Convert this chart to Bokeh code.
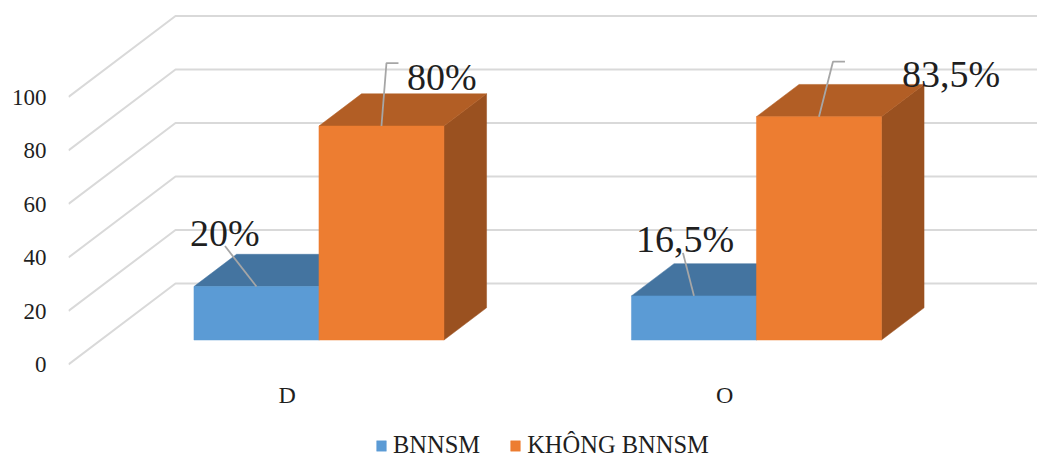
from bokeh.core.properties import value
from bokeh.embed import file_html
from bokeh.models import FixedTicker, Legend, LegendItem, Range1d
from bokeh.plotting import figure
from bokeh.resources import INLINE

categories = ["D", "O"]
series_names = ["BNNSM", "KHÔNG BNNSM"]
bnnsm = [20, 16.5]
khong_bnnsm = [80, 83.5]
bnnsm_labels = ["20%", "16,5%"]
khong_labels = ["80%", "83,5%"]
y_ticks = [0, 20, 40, 60, 80, 100]

FONT = "Liberation Serif"
GRID = "#D9D9D9"
LEADER = "#A6A6A6"
INK = "#1F1F1F"
FACE = ["#5B9BD5", "#ED7D31"]
TOP = ["#4474A0", "#B25E25"]
SIDE = ["#3B6589", "#9A5120"]

# Pixel scale of the front wall of the 3-D box
PX_PER_CAT = 437.5
PX_PER_UNIT = 2.675
LEFT = 67.5
BASE_Y = 364
W, H = 1037, 458

# Oblique projection: full box depth moves a point right and up
DEPTH_X = 107 / PX_PER_CAT
DEPTH_V = 81 / PX_PER_UNIT
BAR_NEAR, BAR_FAR = 0.302, 0.70
BAR_WIDTH = 1 / 3.5


def project(cat_x, val, depth):
    return cat_x + depth * DEPTH_X, val + depth * DEPTH_V


def px(dx, dy):
    """Convert a pixel offset (right, up) into data units."""
    return dx / PX_PER_CAT, dy / PX_PER_UNIT


p = figure(
    width=W, height=H, output_backend="svg", toolbar_location=None,
    x_range=Range1d(0, (W - 68) / PX_PER_CAT),
    y_range=Range1d((BASE_Y - H) / PX_PER_UNIT, BASE_Y / PX_PER_UNIT),
    min_border_left=68, min_border_right=0, min_border_top=0, min_border_bottom=0,
)
p.outline_line_color = None
p.grid.visible = False
p.xaxis.visible = False

yaxis = p.yaxis[0]
yaxis.ticker = FixedTicker(ticks=y_ticks)
yaxis.axis_line_color = None
yaxis.major_tick_line_color = None
yaxis.minor_tick_line_color = None
yaxis.major_label_standoff = 16
yaxis.major_label_text_font = FONT
yaxis.major_label_text_font_size = "23px"
yaxis.major_label_text_color = INK

# Wall and floor gridlines run from the front edge, to the back, then across
end_x = 2 + DEPTH_X
gx, gy = [], []
for v in y_ticks:
    bx, by = project(0, v, 1)
    gx.append([0, bx, end_x])
    gy.append([v, by, by])
p.multi_line(gx, gy, line_color=GRID, line_width=2)

# Bars, drawn left to right so each one overlaps its left neighbour's side
BAR_SHIFT = -0.6 / PX_PER_CAT
series = [bnnsm, khong_bnnsm]
front_faces = [None, None]
for c in range(len(categories)):
    for s, values in enumerate(series):
        v = values[c]
        x0 = c + 0.5 + (s - 1) * BAR_WIDTH + BAR_SHIFT
        x1 = x0 + BAR_WIDTH
        corners = {
            "fl": project(x0, 0, BAR_NEAR), "fr": project(x1, 0, BAR_NEAR),
            "tl": project(x0, v, BAR_NEAR), "tr": project(x1, v, BAR_NEAR),
            "btl": project(x0, v, BAR_FAR), "btr": project(x1, v, BAR_FAR),
            "bfr": project(x1, 0, BAR_FAR),
        }
        side = ["fr", "tr", "btr", "bfr"]
        top = ["tl", "tr", "btr", "btl"]
        face = ["fl", "fr", "tr", "tl"]
        for keys, colours in ((side, SIDE), (top, TOP), (face, FACE)):
            r = p.patch([corners[k][0] for k in keys], [corners[k][1] for k in keys],
                        fill_color=colours[s], line_color=colours[s], line_width=0.5)
            if keys is face and front_faces[s] is None:
                front_faces[s] = r

# Leader lines and value labels, anchored on the middle of each bar's top edge
leaders = [
    (0, 0, [(-31.5, 40.5)], (-66.5, 54)),
    (0, 1, [(5, 63), (17, 63)], (25.5, 49.5)),
    (1, 0, [(-11, 43)], (-58, 57)),
    (1, 1, [(14, 55), (26, 55)], (83, 43)),
]
label_text = [bnnsm_labels, khong_labels]
for c, s, bends, (tx, ty) in leaders:
    v = series[s][c]
    ax, ay = project(c + 0.5 + (s - 0.5) * BAR_WIDTH + BAR_SHIFT, v, BAR_NEAR)
    xs, ys = [ax], [ay]
    for bx, by in bends:
        dx, dv = px(bx, by)
        xs.append(ax + dx)
        ys.append(ay + dv)
    p.line(xs, ys, line_color=LEADER, line_width=1.8)
    p.text([ax], [ay], text=[label_text[s][c]], x_offset=tx, y_offset=-ty,
           text_font=value(FONT), text_font_size="38px", text_color=INK,
           text_align="left", text_baseline="alphabetic")

# Category names sit under the front edge of the floor
cat_x = [c + 0.5 for c in range(len(categories))]
p.text(cat_x, [0] * len(cat_x), text=categories, y_offset=30,
       text_font=value(FONT), text_font_size="24px", text_color=INK,
       text_align="center", text_baseline="middle")

legend = Legend(
    items=[LegendItem(label=n, renderers=[r]) for n, r in zip(series_names, front_faces)],
    orientation="horizontal", location=(307, -1),
    label_text_font=FONT, label_text_font_size="24.5px", label_text_color=INK,
    glyph_width=12, glyph_height=13, label_standoff=6, spacing=29,
    padding=0, margin=0, border_line_color=None, background_fill_alpha=0,
)
p.add_layout(legend, "center")

open("out.html", "w").write(file_html(p, INLINE))
